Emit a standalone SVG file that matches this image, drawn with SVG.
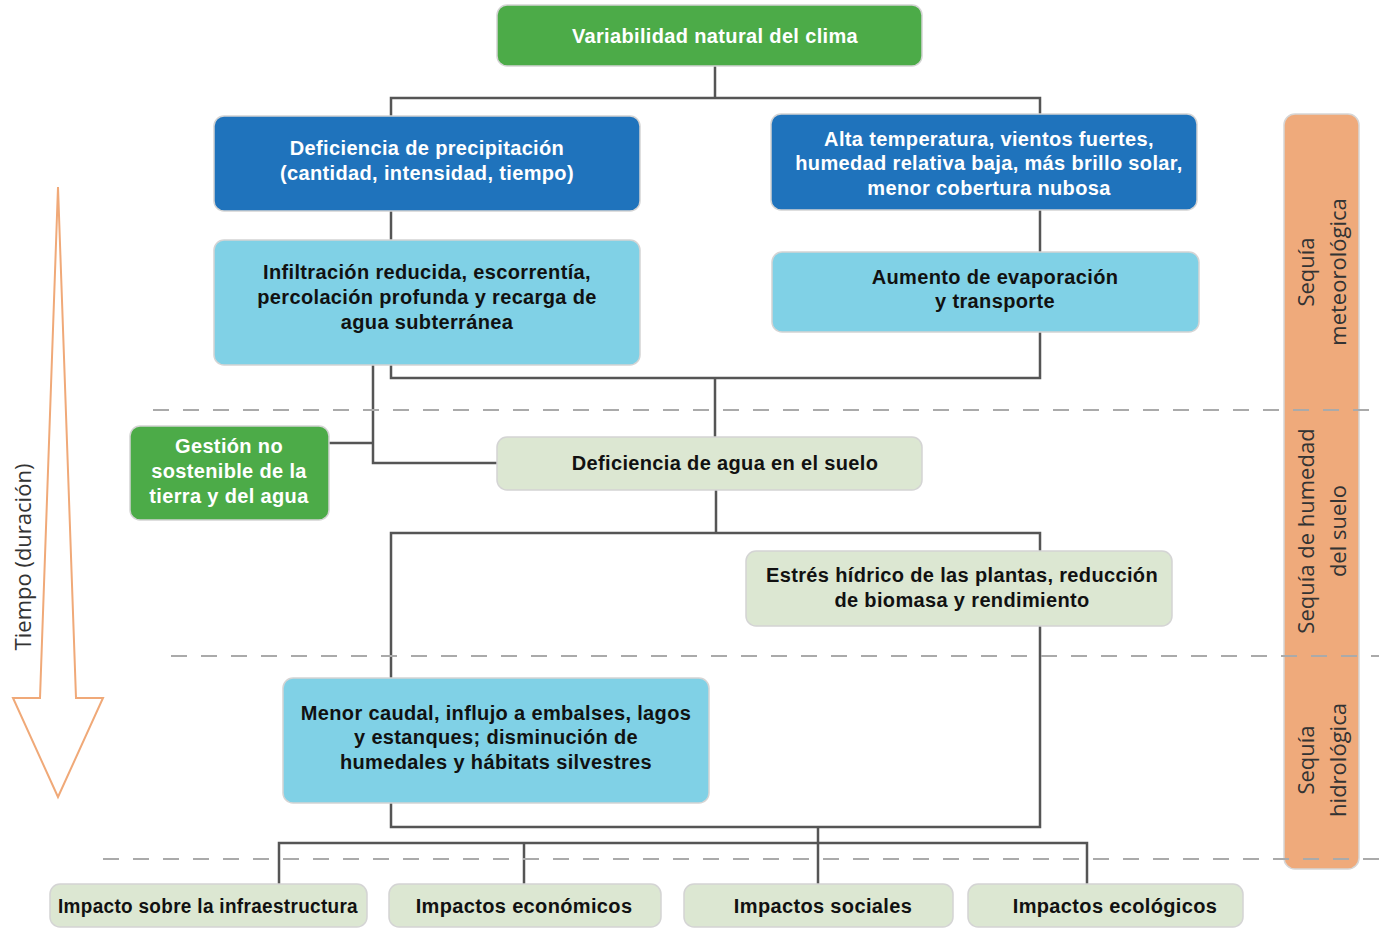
<svg xmlns="http://www.w3.org/2000/svg" width="1379" height="928" viewBox="0 0 1379 928">
<style>
.box{stroke:#d4d4d4;stroke-width:1.5}
.g{fill:#4cab48}
.b{fill:#1f73bc}
.lb{fill:#80d1e6}
.pg{fill:#dce7d2}
.t{font-family:"Liberation Sans",Arial,sans-serif;font-weight:bold;font-size:20px;letter-spacing:0.35px;text-anchor:middle;dominant-baseline:central}
.w{fill:#ffffff}
.k{fill:#111111}
.r{font-family:"Open Sans","Liberation Sans",sans-serif;font-size:22px;fill:#333;text-anchor:middle;dominant-baseline:central}
.c{fill:none;stroke:#555;stroke-width:2.5}
.d{fill:none;stroke:#aaa;stroke-width:2;stroke-dasharray:16 14}
</style>
<rect width="1379" height="928" fill="#fff"/>
<g id="arrow-time">
<path d="M58 187 L40 698 L13 698 L58 797 L103 698 L76 698 Z" fill="#fff" stroke="#f0a978" stroke-width="2"/>
<text class="r" transform="translate(22 557) rotate(-90)">Tiempo (duración)</text>
</g>
<g id="band">
<rect x="1284" y="114" width="75" height="755" rx="11" fill="#efaa7b" stroke="#d6d6d6" stroke-width="1.5"/>
<text class="r" transform="translate(1321 272) rotate(-90)"><tspan x="0" dy="-16">Sequía</tspan><tspan x="0" dy="32">meteorológica</tspan></text>
<text class="r" transform="translate(1321 531) rotate(-90)"><tspan x="0" dy="-16">Sequía de humedad</tspan><tspan x="0" dy="32">del suelo</tspan></text>
<text class="r" transform="translate(1321 760) rotate(-90)"><tspan x="0" dy="-16">Sequía</tspan><tspan x="0" dy="32">hidrológica</tspan></text>
</g>
<g id="connectors">
<path class="c" d="M715 66 V98 M391 116 V98 H1040 V114"/>
<path class="c" d="M391 211 V240"/>
<path class="c" d="M1040 210 V252"/>
<path class="c" d="M391 365 V378 H1040 V332 M715 378 V437"/>
<path class="c" d="M373 365 V463 H497 M329 443 H373"/>
<path class="c" d="M716 490 V533 M391 678 V533 H1040 V551"/>
<path class="c" d="M1040 626 V827 H391 V803"/>
<path class="c" d="M818 827 V884 M279 884 V843 H1087 V884 M524 843 V884"/>
</g>
<g id="dashes">
<path class="d" d="M153 410 H1379"/>
<path class="d" d="M171 656 H1379"/>
<path class="d" d="M103 859 H1379"/>
</g>
<g id="n-variabilidad">
<rect class="box g" x="497" y="5" width="425" height="61" rx="10"/>
<text class="t w" x="715" y="36">Variabilidad natural del clima</text>
</g>
<g id="n-precipitacion">
<rect class="box b" x="214" y="116" width="426" height="95" rx="10"/>
<text class="t w" x="427" y="148">Deficiencia de precipitación</text>
<text class="t w" x="427" y="173">(cantidad, intensidad, tiempo)</text>
</g>
<g id="n-temperatura">
<rect class="box b" x="771" y="114" width="426" height="96" rx="10"/>
<text class="t w" x="989" y="139">Alta temperatura, vientos fuertes,</text>
<text class="t w" x="989" y="163">humedad relativa baja, más brillo solar,</text>
<text class="t w" x="989" y="188">menor cobertura nubosa</text>
</g>
<g id="n-infiltracion">
<rect class="box lb" x="214" y="240" width="426" height="125" rx="10"/>
<text class="t k" x="427" y="272">Infiltración reducida, escorrentía,</text>
<text class="t k" x="427" y="297">percolación profunda y recarga de</text>
<text class="t k" x="427" y="322">agua subterránea</text>
</g>
<g id="n-evaporacion">
<rect class="box lb" x="772" y="252" width="427" height="80" rx="10"/>
<text class="t k" x="995" y="277">Aumento de evaporación</text>
<text class="t k" x="995" y="301">y transporte</text>
</g>
<g id="n-gestion">
<rect class="box g" x="130" y="426" width="199" height="94" rx="10"/>
<text class="t w" x="229" y="446">Gestión no</text>
<text class="t w" x="229" y="471">sostenible de la</text>
<text class="t w" x="229" y="496">tierra y del agua</text>
</g>
<g id="n-suelo">
<rect class="box pg" x="497" y="437" width="425" height="53" rx="10"/>
<text class="t k" x="725" y="463">Deficiencia de agua en el suelo</text>
</g>
<g id="n-estres">
<rect class="box pg" x="746" y="551" width="426" height="75" rx="10"/>
<text class="t k" x="962" y="575">Estrés hídrico de las plantas, reducción</text>
<text class="t k" x="962" y="600">de biomasa y rendimiento</text>
</g>
<g id="n-caudal">
<rect class="box lb" x="283" y="678" width="426" height="125" rx="10"/>
<text class="t k" x="496" y="713">Menor caudal, influjo a embalses, lagos</text>
<text class="t k" x="496" y="737">y estanques; disminución de</text>
<text class="t k" x="496" y="762">humedales y hábitats silvestres</text>
</g>
<g id="n-infra">
<rect class="box pg" x="50" y="884" width="317" height="43" rx="10"/>
<text class="t k" x="208" y="906" textLength="300" lengthAdjust="spacingAndGlyphs">Impacto sobre la infraestructura</text>
</g>
<g id="n-eco">
<rect class="box pg" x="389" y="884" width="272" height="43" rx="10"/>
<text class="t k" x="524" y="906">Impactos económicos</text>
</g>
<g id="n-soc">
<rect class="box pg" x="684" y="884" width="269" height="43" rx="10"/>
<text class="t k" x="823" y="906">Impactos sociales</text>
</g>
<g id="n-ecol">
<rect class="box pg" x="968" y="884" width="275" height="43" rx="10"/>
<text class="t k" x="1115" y="906">Impactos ecológicos</text>
</g>
</svg>
